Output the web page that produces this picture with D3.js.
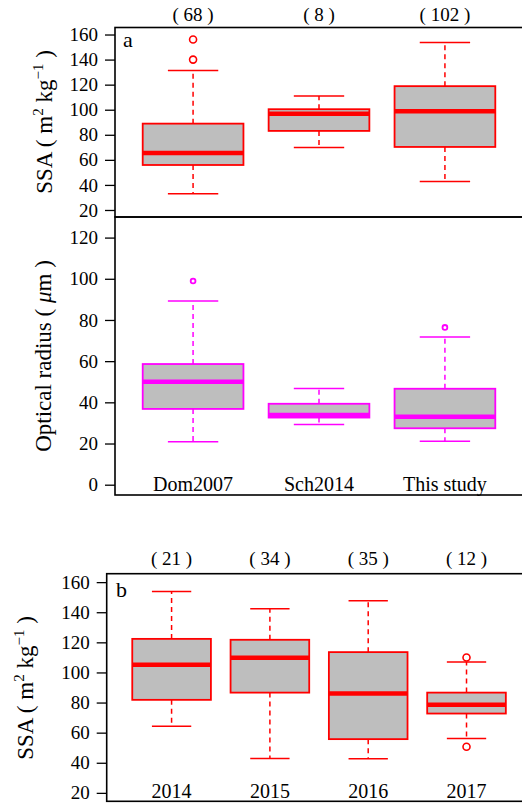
<!DOCTYPE html>
<html>
<head>
<meta charset="utf-8">
<script src="https://cdn.jsdelivr.net/npm/d3@7"></script>
<style>
  html, body { margin: 0; padding: 0; background: #fff; }
  svg { display: block; }
  text { font-family: "Liberation Serif", "DejaVu Serif", serif; fill: #000; }
</style>
</head>
<body>
<svg id="chart" width="522" height="803"></svg>
<script>
// ---------- data ----------
const studies = ["Dom2007", "Sch2014", "This study"];
const studyCounts = [68, 8, 102];

// Panel a: SSA (m2 kg-1)
const ssaLow  = [33, 69.8, 42.7];
const ssaQ1   = [55.9, 83.1, 70.3];
const ssaMed  = [65.5, 96.7, 98.8];
const ssaQ3   = [88.9, 100.4, 118.8];
const ssaHigh = [131.2, 111, 153.6];
const ssaOut  = [[140, 156], [], []];

// Panel a (lower): optical radius (µm)
const radLow  = [20.8, 29.2, 21.1];
const radQ1   = [36.8, 32.6, 27.4];
const radMed  = [50, 33.8, 33];
const radQ3   = [58.6, 39.3, 46.6];
const radHigh = [89.2, 46.7, 71.7];
const radOut  = [[98.9], [], [76.4]];

// Panel b: SSA by year
const years = ["2014", "2015", "2016", "2017"];
const yearCounts = [21, 34, 35, 12];
const yrLow  = [64.3, 42.8, 42.6, 56.1];
const yrQ1   = [81.8, 86.6, 55.7, 72.7];
const yrMed  = [105.1, 109.7, 86, 78.5];
const yrQ3   = [122.3, 121.7, 113.5, 86.6];
const yrHigh = [153.8, 142.3, 147.6, 107];
const yrOut  = [[], [], [], [50.6, 109.9]];

const ssaTicks = [20, 40, 60, 80, 100, 120, 140, 160];
const radTicks = [0, 20, 40, 60, 80, 100, 120];

// ---------- drawing ----------
const svg = d3.select("#chart");
const FONT = 19;

function stats(cats, lo, q1, md, q3, hi, out) {
  return cats.map((c, i) => ({ cat: c, i: i + 1, lo: lo[i], q1: q1[i], md: md[i], q3: q3[i], hi: hi[i], out: out[i] }));
}

function panel(opt) {
  const g = svg.append("g");
  const n = opt.data.length;
  const x = d3.scaleLinear().domain([0.5 - 0.04 * n, n + 0.5 + 0.04 * n]).range([opt.left, opt.right]);
  const y = d3.scaleLinear().domain(opt.ydom).range([opt.bottom, opt.top]);
  const unit = x(2) - x(1);
  const bw = 0.8 * unit, cw = 0.4 * unit;
  const col = opt.color;

  // y axis
  const ax = g.append("g").attr("transform", `translate(${opt.left},0)`)
    .call(d3.axisLeft(y).tickValues(opt.ticks).tickSize(10).tickPadding(7).tickFormat(d3.format("d")));
  ax.select(".domain").remove();
  ax.selectAll(".tick line").attr("stroke", "#000").attr("stroke-width", 1.3);
  ax.selectAll(".tick text").style("font-family", '"Liberation Serif", serif').style("font-size", FONT + "px").attr("fill", "#000");

  const b = g.selectAll("g.box").data(opt.data).enter().append("g");
  // whiskers (dashed)
  b.append("line").attr("x1", d => x(d.i)).attr("x2", d => x(d.i))
    .attr("y1", d => y(d.q3)).attr("y2", d => y(d.hi))
    .attr("stroke", col).attr("stroke-width", 1.5).attr("stroke-dasharray", "5,4");
  b.append("line").attr("x1", d => x(d.i)).attr("x2", d => x(d.i))
    .attr("y1", d => y(d.q1)).attr("y2", d => y(d.lo))
    .attr("stroke", col).attr("stroke-width", 1.5).attr("stroke-dasharray", "5,4");
  // caps
  b.append("line").attr("x1", d => x(d.i) - cw / 2).attr("x2", d => x(d.i) + cw / 2)
    .attr("y1", d => y(d.hi)).attr("y2", d => y(d.hi)).attr("stroke", col).attr("stroke-width", 1.5);
  b.append("line").attr("x1", d => x(d.i) - cw / 2).attr("x2", d => x(d.i) + cw / 2)
    .attr("y1", d => y(d.lo)).attr("y2", d => y(d.lo)).attr("stroke", col).attr("stroke-width", 1.5);
  // box
  b.append("rect").attr("x", d => x(d.i) - bw / 2).attr("width", bw)
    .attr("y", d => y(d.q3)).attr("height", d => y(d.q1) - y(d.q3))
    .attr("fill", "#bebebe").attr("stroke", col).attr("stroke-width", 1.8);
  // median
  b.append("line").attr("x1", d => x(d.i) - bw / 2).attr("x2", d => x(d.i) + bw / 2)
    .attr("y1", d => y(d.md)).attr("y2", d => y(d.md)).attr("stroke", col).attr("stroke-width", 4.5);
  // outliers
  b.selectAll("circle").data(d => d.out.map(v => ({ i: d.i, v }))).enter().append("circle")
    .attr("cx", d => x(d.i)).attr("cy", d => y(d.v)).attr("r", opt.pr)
    .attr("fill", "none").attr("stroke", col).attr("stroke-width", opt.pw);

  // frame
  g.append("rect").attr("x", opt.left).attr("y", opt.top)
    .attr("width", opt.right - opt.left).attr("height", opt.bottom - opt.top)
    .attr("fill", "none").attr("stroke", "#000").attr("stroke-width", 1.6);

  // counts on top
  if (opt.counts) {
    g.selectAll("text.cnt").data(opt.data).enter().append("text")
      .attr("x", d => x(d.i)).attr("y", opt.countY).attr("text-anchor", "middle")
      .style("font-size", FONT + "px")
      .text((d, k) => `( ${opt.counts[k]} )`);
  }
  // category labels
  if (opt.catY) {
    g.selectAll("text.cat").data(opt.data).enter().append("text")
      .attr("x", d => x(d.i)).attr("y", opt.catY).attr("text-anchor", "middle")
      .style("font-size", "20px").text(d => d.cat);
  }
  // panel letter
  if (opt.letter) {
    g.append("text").attr("x", opt.letter[1]).attr("y", opt.letter[2])
      .style("font-size", "22px").text(opt.letter[0]);
  }
  return { g, x, y };
}

// SSA label with super-scripts
function ssaLabel(cx, cy) {
  const t = svg.append("text").attr("transform", `translate(${cx},${cy}) rotate(-90)`)
    .attr("text-anchor", "middle").style("font-size", "23px");
  t.append("tspan").text("SSA ( m");
  t.append("tspan").attr("dy", -9).style("font-size", "15px").text("2");
  t.append("tspan").attr("dy", 9).text(" kg");
  t.append("tspan").attr("dy", -9).style("font-size", "15px").text("−1");
  t.append("tspan").attr("dy", 9).text(" )");
}

// Panel a (top)
panel({
  data: stats(studies, ssaLow, ssaQ1, ssaMed, ssaQ3, ssaHigh, ssaOut),
  left: 115, right: 523, top: 27.5, bottom: 217,
  ydom: [14.4, 165.6], ticks: ssaTicks, color: "#ff0000", pr: 3.5, pw: 1.6,
  counts: studyCounts, countY: 21, letter: ["a", 123, 47]
});
ssaLabel(52, 122);

// Panel a (lower)
panel({
  data: stats(studies, radLow, radQ1, radMed, radQ3, radHigh, radOut),
  left: 115, right: 523, top: 217, bottom: 495,
  ydom: [-5, 130], ticks: radTicks, color: "#ff00ff", pr: 2.4, pw: 1.8,
  catY: 491
});
{
  const t = svg.append("text").attr("transform", `translate(51,356) rotate(-90)`)
    .attr("text-anchor", "middle").style("font-size", "23px");
  t.append("tspan").text("Optical radius ( ");
  t.append("tspan").style("font-style", "italic").text("μ");
  t.append("tspan").text("m )");
}

// Panel b
panel({
  data: stats(years, yrLow, yrQ1, yrMed, yrQ3, yrHigh, yrOut),
  left: 106.7, right: 531.4, top: 573.7, bottom: 801.3,
  ydom: [14.4, 165.6], ticks: ssaTicks, color: "#ff0000", pr: 3.5, pw: 1.6,
  counts: yearCounts, countY: 565, catY: 798, letter: ["b", 116, 597]
});
ssaLabel(33, 688);
</script>
</body>
</html>
